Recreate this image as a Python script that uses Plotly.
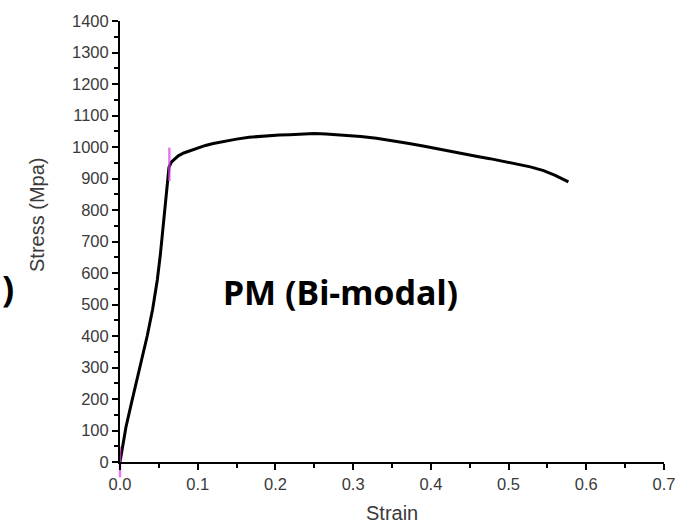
import plotly.graph_objects as go

# Stress-strain curve
strain = [0.0, 0.004, 0.0077, 0.015, 0.022, 0.028, 0.035, 0.042, 0.048, 0.052, 0.055,
          0.058, 0.061, 0.063, 0.066, 0.070, 0.075, 0.082, 0.090, 0.100, 0.110, 0.120,
          0.135, 0.150, 0.166, 0.185, 0.205, 0.218, 0.235, 0.250, 0.265, 0.289, 0.310,
          0.330, 0.347, 0.370, 0.390, 0.412, 0.440, 0.460, 0.476, 0.500, 0.528, 0.545,
          0.560, 0.577]
stress = [0, 55, 111, 190, 262, 324, 400, 485, 578, 660, 735,
          820, 895, 935, 952, 962, 972, 981, 988, 997, 1005, 1011,
          1019, 1025, 1031, 1035, 1038, 1039, 1041, 1043, 1041, 1038, 1033,
          1028, 1022, 1012, 1003, 992, 979, 970, 963, 952, 937, 925,
          910, 889]

# small magenta marks seen on the curve
mark_strain = [0.0, 0.0635]
mark_stress = [0, 945]

label_text = "PM (Bi-modal)"
x_title = "Strain"
y_title = "Stress (Mpa)"

MAGENTA = "#e040e8"

fig = go.Figure()
fig.add_trace(go.Scatter(x=strain, y=stress, mode="lines",
                         line=dict(color="black", width=3), showlegend=False))
fig.add_trace(go.Scatter(x=mark_strain, y=mark_stress, mode="markers",
                         marker=dict(symbol="line-ns-open", size=[22, 24], color=MAGENTA,
                                     line=dict(color=MAGENTA, width=2.5)),
                         cliponaxis=False, showlegend=False, hoverinfo="skip"))

tick_font = dict(family="Liberation Sans, Arial, sans-serif", size=16.5, color="#3a3a3a")

fig.update_xaxes(range=[0, 0.7], dtick=0.1, tick0=0, tickformat=".1f", automargin=False,
                 ticklabeloverflow="allow",
                 showgrid=False, zeroline=False, showline=True, linecolor="black",
                 linewidth=2, ticks="outside", ticklen=6, tickwidth=2,
                 tickcolor="black", tickfont=tick_font,
                 minor=dict(ticks="outside", dtick=0.05, ticklen=4, tickwidth=2,
                            tickcolor="black", showgrid=False))
fig.update_yaxes(range=[0, 1400], dtick=100, tick0=0, automargin=False,
                 showgrid=False, zeroline=False, showline=True, linecolor="black",
                 linewidth=2, ticks="outside", ticklen=6, tickwidth=2,
                 tickcolor="black", tickfont=tick_font,
                 minor=dict(ticks="outside", dtick=50, ticklen=4, tickwidth=2,
                            tickcolor="black", showgrid=False))

W, H = 677, 529
L, R, T, B = 120, 13, 21, 67
pw = W - L - R
ph = H - T - B


def px_x(p):
    return (p - L) / pw


def px_y(p):
    return (H - B - p) / ph


fig.add_annotation(x=0.284, y=540, xref="x", yref="y", text="<b>" + label_text + "</b>",
                   showarrow=False, xanchor="center", yanchor="middle",
                   font=dict(family="Noto Sans, Open Sans, sans-serif",
                             size=34, color="black"))
fig.add_annotation(x=px_x(392), y=px_y(513), xref="paper", yref="paper", text=x_title,
                   showarrow=False, xanchor="center", yanchor="middle",
                   font=dict(family="Liberation Sans, Arial, sans-serif",
                             size=20, color="#3a3a3a"))
fig.add_annotation(x=px_x(37), y=px_y(215), xref="paper", yref="paper", text=y_title,
                   textangle=-90, showarrow=False, xanchor="center", yanchor="middle",
                   font=dict(family="Liberation Sans, Arial, sans-serif", size=20,
                             color="#3a3a3a"))
fig.add_annotation(x=px_x(0), y=px_y(289), xref="paper", yref="paper", text="<b>)</b>",
                   xanchor="left", yanchor="middle", showarrow=False,
                   font=dict(family="Noto Sans, sans-serif", size=36, color="black"))

fig.update_layout(width=W, height=H, margin=dict(l=L, r=R, t=T, b=B),
                  plot_bgcolor="white", paper_bgcolor="white", showlegend=False)

fig.write_html("out.html", config={"displayModeBar": False},
               post_script="document.body.style.margin='0';document.body.style.overflow='hidden';")
